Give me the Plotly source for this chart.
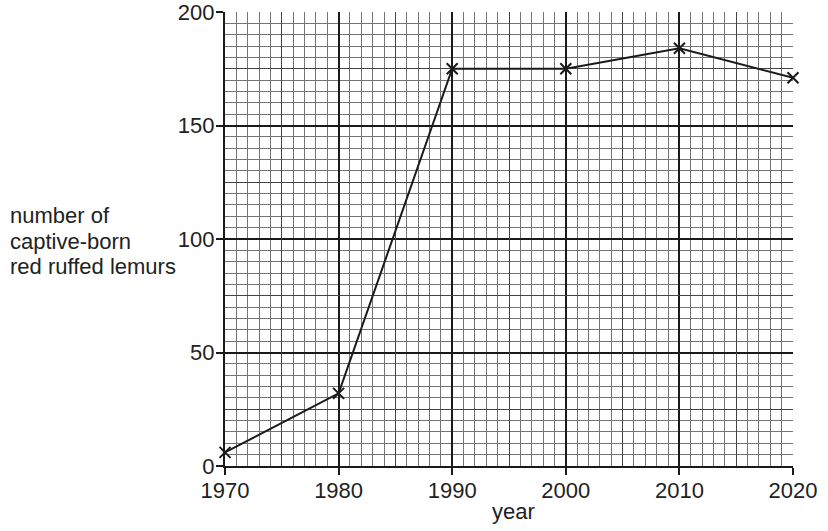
import plotly.graph_objects as go

years = [1970, 1980, 1990, 2000, 2010, 2020]
lemurs = [6, 32, 175, 175, 184, 171]
x_ticks = [1970, 1980, 1990, 2000, 2010, 2020]
y_ticks = [0, 50, 100, 150, 200]
x_mid = [1975, 1985, 1995, 2005, 2015]
y_mid = [25, 75, 125, 175]
label_lines = ["number of", "captive-born", "red ruffed lemurs"]

FONT = "Liberation Sans, Arial, sans-serif"
TXT = "#222222"
fig = go.Figure()

# overlay axes: medium (5-year / 25-unit) grid only; invisible helper trace so they render
fig.add_trace(go.Scatter(
    x=[1970, 2020], y=[0, 200], xaxis="x2", yaxis="y2", mode="markers",
    marker=dict(opacity=0), hoverinfo="skip", showlegend=False,
))

fig.add_trace(go.Scatter(
    x=years, y=lemurs,
    mode="lines+markers",
    line=dict(color="#1a1a1a", width=2),
    marker=dict(symbol="x-thin", size=11, line=dict(color="#1a1a1a", width=2)),
    showlegend=False, cliponaxis=False,
))

fig.update_layout(
    xaxis=dict(range=[1970, 2020], tickvals=x_ticks, ticktext=[str(v) for v in x_ticks],
               showgrid=True, gridcolor="#1a1a1a", gridwidth=1.5,
               ticks="outside", ticklen=7, tickwidth=1.5, tickcolor="#1a1a1a",
               showline=True, linecolor="#1a1a1a", linewidth=2.2, zeroline=False,
               automargin=False, ticklabeloverflow="allow", ticklabelstandoff=-4,
               tickfont=dict(family=FONT, size=22, color=TXT),
               minor=dict(dtick=1, tick0=1970, showgrid=True, gridcolor="#747474", gridwidth=1, ticks="")),
    yaxis=dict(range=[0, 200], tickvals=y_ticks,
               showgrid=True, gridcolor="#1a1a1a", gridwidth=1.5,
               ticks="outside", ticklen=7, tickwidth=1.5, tickcolor="#1a1a1a",
               showline=True, linecolor="#1a1a1a", linewidth=2.2, zeroline=False,
               automargin=False, ticklabeloverflow="allow", ticklabelstandoff=-3,
               tickfont=dict(family=FONT, size=22, color=TXT),
               minor=dict(dtick=5, tick0=0, showgrid=True, gridcolor="#747474", gridwidth=1, ticks="")),
    xaxis2=dict(range=[1970, 2020], overlaying="x", tickvals=x_mid, showticklabels=False,
                showgrid=True, gridcolor="#444444", gridwidth=1.2, ticks="",
                showline=False, zeroline=False, anchor="y2", automargin=False),
    yaxis2=dict(range=[0, 200], overlaying="y", tickvals=y_mid, showticklabels=False,
                showgrid=True, gridcolor="#444444", gridwidth=1.2, ticks="",
                showline=False, zeroline=False, anchor="x2", automargin=False),
    width=828, height=531,
    margin=dict(l=225, r=35, t=12, b=65),
    paper_bgcolor="white", plot_bgcolor="white",
    font=dict(family=FONT, size=22, color=TXT),
)

# multi-line y label, placed line by line (pixel centres 215.5, 241, 266.5)
for i, line in enumerate(label_lines):
    fig.add_annotation(
        text=line, xref="paper", yref="paper",
        x=-217 / 568, y=(466 - (215.5 + 25.5 * i)) / 454,
        xanchor="left", yanchor="middle", align="left", showarrow=False,
        font=dict(family=FONT, size=22, color=TXT),
    )
fig.add_annotation(
    text="year", xref="paper", yref="paper", x=(513 - 225) / 568, y=-45 / 454,
    xanchor="center", yanchor="middle", showarrow=False,
    font=dict(family=FONT, size=22, color=TXT),
)

fig.write_html(
    "out.html",
    config={"displayModeBar": False},
    post_script="document.body.style.margin='0';document.body.style.overflow='hidden';",
)
